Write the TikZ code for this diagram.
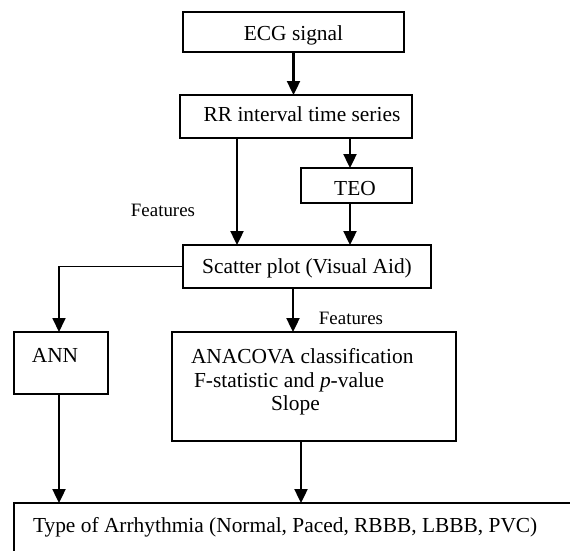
\documentclass[tikz,border=0pt]{standalone}
\usepackage{fontspec}
\setmainfont{Liberation Serif}
\usetikzlibrary{arrows.meta}
\tikzset{
  box/.style={draw=black, line width=1.4pt, rectangle, inner sep=0pt, outer sep=0pt, fill=none},
  arr/.style={draw=black, line width=2.4pt, -{Triangle[width=13pt,length=14pt]}},
  lbl/.style={inner sep=0pt, outer sep=0pt, font=\fontsize{21.4}{24}\selectfont},
  flbl/.style={inner sep=0pt, outer sep=0pt, font=\fontsize{18.9}{22}\selectfont}
}
\begin{document}
\begin{tikzpicture}[x=1pt,y=-1pt]
\clip (0,0) rectangle (570,551);
\fill[white] (0,0) rectangle (570,551);
% boxes
\node[box, minimum width=221pt, minimum height=40pt] (ecg) at (293.5,32) {};
\node[box, minimum width=232pt, minimum height=43pt] (rr) at (296,116.5) {};
\node[box, minimum width=111pt, minimum height=35pt] (teo) at (356.5,185.5) {};
\node[box, minimum width=248pt, minimum height=43pt] (scatter) at (307,266.5) {};
\node[box, minimum width=94pt, minimum height=62pt] (ann) at (61,363) {};
\node[box, minimum width=284pt, minimum height=109pt] (anacova) at (314,386.5) {};
\node[box, minimum width=576pt, minimum height=67pt] (type) at (302,536.5) {};
% texts
\node[lbl, anchor=base] (tecg) at (293.5,41) {ECG signal};
\node[lbl, anchor=base] (trr) at (302,121) {RR interval time series};
\node[lbl, anchor=base] (tteo) at (355,195) {TEO};
\node[lbl, anchor=base] (tscatter) at (307,273) {Scatter plot (Visual Aid)};
\node[flbl, anchor=base] (feat1) at (163,216) {Features};
\node[flbl, anchor=base] (feat2) at (351,324) {Features};
\node[lbl, anchor=base] (tann) at (55,362) {ANN};
\node[lbl, anchor=base west] (tana1) at (191,363) {ANACOVA classification};
\node[lbl, anchor=base west] (tana2) at (194,387) {F-statistic and \textit{p}-value};
\node[lbl, anchor=base west] (tana3) at (271,410) {Slope};
\node[lbl, anchor=base west] (ttype) at (33,532) {Type of Arrhythmia (Normal, Paced, RBBB, LBBB, PVC)};
% connector columns
\coordinate (cA) at (293.5,0);
\coordinate (cB) at (237,0);
\coordinate (cC) at (350,0);
\coordinate (cD) at (59,0);
\coordinate (cE) at (293,0);
\coordinate (cF) at (301,0);
% connectors
\draw[arr] (ecg.south -| cA) -- (rr.north -| cA);
\draw[arr] (rr.south -| cB) -- (scatter.north -| cB);
\draw[arr] (rr.south -| cC) -- (teo.north -| cC);
\draw[arr] (teo.south -| cC) -- (scatter.north -| cC);
\draw[arr, line width=1.8pt] (scatter.west) -| (ann.north -| cD);
\draw[arr] (scatter.south -| cE) -- (anacova.north -| cE);
\draw[arr] (ann.south -| cD) -- (type.north -| cD);
\draw[arr] (anacova.south -| cF) -- (type.north -| cF);
\end{tikzpicture}
\end{document}
